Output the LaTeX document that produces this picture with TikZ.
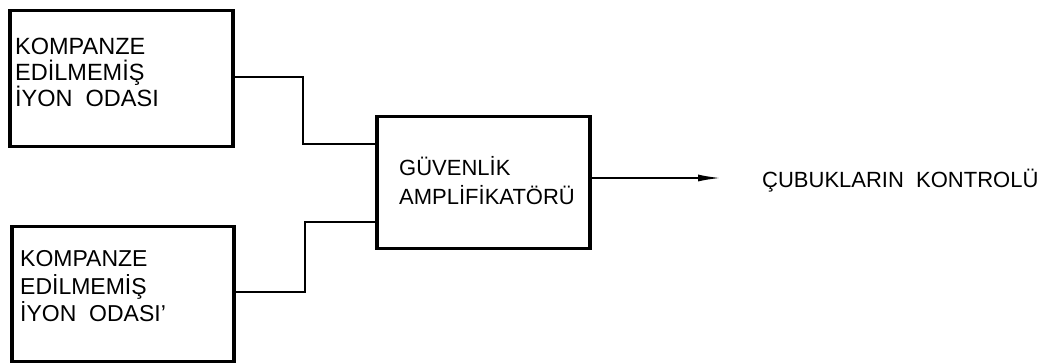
\documentclass[tikz,border=0pt]{standalone}
\usepackage{fontspec}
\setmainfont{Liberation Sans}
\usetikzlibrary{arrows.meta}
\begin{document}
\begin{tikzpicture}[x=1pt,y=-1pt,
  blockbox/.style={draw=black, line width=3.5pt, fill=none, inner sep=0pt, anchor=north west},
  boxtext/.style={inner sep=0pt, anchor=base west, align=left},
  wire/.style={draw=black, line width=2.2pt, line join=miter},
  arrowline/.style={wire, -{Latex[length=24pt,width=7pt]}}
]
\useasboundingbox (0,0) rectangle (1050,363);

% chambers and amplifier
\node[blockbox, minimum width=223pt, minimum height=136pt] (ch1) at (8,9) {};
\node[blockbox, minimum width=222pt, minimum height=135pt] (ch2) at (10,225) {};
\node[blockbox, minimum width=213pt, minimum height=132pt] (amp) at (375,115) {};

% labels (anchored on the baseline of their last line)
\node[boxtext, font=\fontsize{23.5}{26}\selectfont] (ch1t) at (15,107)
  {KOMPANZE\\EDİLMEMİŞ\\İYON\ \ ODASI};
\node[boxtext, font=\fontsize{23}{27.5}\selectfont] (ch2t) at (20,322)
  {KOMPANZE\\EDİLMEMİŞ\\İYON\ \ ODASI'};
\node[boxtext, font=\fontsize{22}{29}\selectfont] (ampt) at (399,205)
  {GÜVENLİK\\AMPLİFİKATÖRÜ};
\node[boxtext, font=\fontsize{22}{26}\selectfont] (out) at (762,188)
  {ÇUBUKLARIN\ \ KONTROLÜ};

% connectors
\coordinate (j1) at (303,144);
\coordinate (j2) at (305,222);
\coordinate (tip) at (722,178);
\draw[wire] (ch1.east |- 0,77) -| (j1) -- (amp.west |- j1);
\draw[wire] (ch2.east |- 0,292) -| (j2) -- (amp.west |- j2);
\draw[arrowline] (amp.east |- tip) -- (tip);
\end{tikzpicture}
\end{document}
